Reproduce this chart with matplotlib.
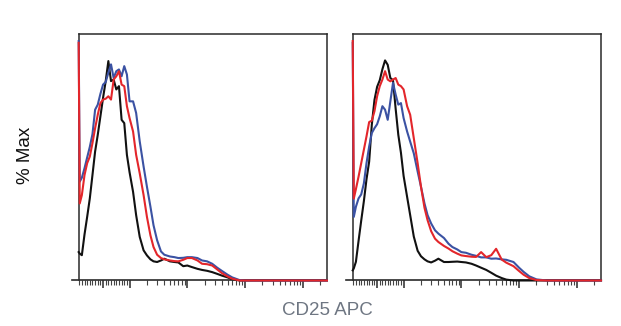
import matplotlib
matplotlib.use("Agg")
import matplotlib.pyplot as plt
from matplotlib.lines import Line2D

plt.rcParams['font.family'] = ['Liberation Sans', 'DejaVu Sans']

# Shared histogram bin positions (CD25 APC fluorescence)
fluor = [-92, -88, -80, -70, -60, -50, -40, -30, -20, -10, 0, 10, 20, 30, 40, 50,
         60, 70, 80, 90, 100, 115, 130, 150, 175, 200, 230, 260, 300, 350, 400,
         500, 600, 700, 850, 1000, 1200, 1500, 1800, 2200, 2700, 3300, 4000,
         5000, 6000, 8000, 10000, 12000, 15000, 20000, 30000, 262144]

# Left panel, % of max
left_black = [12.9, 12.2, 11.5, 20.9, 28.9, 37.3, 47.9, 58.6, 66.2, 74.6, 83.0, 90.6,
              99.7, 90.6, 91.3, 86.8, 88.3, 73.0, 71.5, 57.1, 49.2, 40.3, 29.7, 19.8,
              13.7, 11.4, 9.6, 8.7, 8.4, 9.1, 9.9, 8.7, 8.4, 8.2, 6.5, 6.8, 6.1, 5.3,
              4.8, 4.4, 3.8, 3.0, 2.2, 1.4, 0.6, 0, 0, 0, 0, 0, 0, 0]
left_blue = [108.8, 44.9, 46.7, 51.0, 55.9, 60.7, 66.5, 77.6, 79.9, 84.8, 89.0, 90.2,
             94.4, 98.2, 92.0, 95.1, 95.9, 92.8, 97.4, 93.6, 81.4, 81.4, 76.1, 63.2,
             51.8, 42.6, 33.5, 25.1, 18.3, 13.2, 11.7, 10.9, 10.6, 10.2, 10.3, 10.6,
             10.6, 10.2, 9.1, 8.7, 7.6, 5.8, 4.3, 2.6, 1.4, 0.2, 0, 0, 0, 0, 0, 0]
left_red = [108.0, 35.0, 38.8, 47.9, 53.3, 56.3, 62.4, 69.2, 75.3, 80.6, 82.2, 82.6,
            83.7, 82.2, 91.3, 92.8, 95.1, 89.0, 88.3, 79.2, 73.8, 67.7, 57.1, 48.7,
            38.8, 28.9, 20.5, 15.2, 11.7, 10.2, 9.6, 9.1, 8.8, 8.7, 9.4, 10.2, 10.2,
            9.1, 7.6, 7.4, 6.8, 5.0, 3.3, 1.8, 0.8, 0, 0, 0, 0, 0, 0, 0]

# Right panel, % of max
right_black = [4.6, 5.5, 8.5, 18.0, 27.2, 36.0, 46.0, 54.0, 70.8, 82.0, 88.0, 91.0,
               96.0, 100.0, 98.0, 92.0, 91.0, 78.0, 66.2, 58.0, 47.5, 38.0, 29.7, 20.0,
               13.5, 11.0, 9.6, 8.7, 8.2, 9.0, 9.9, 8.4, 8.4, 8.5, 8.6, 8.4, 8.2, 7.6,
               6.8, 5.8, 4.8, 3.5, 2.2, 1.1, 0.4, 0, 0, 0, 0, 0, 0, 0]
right_blue = [108.0, 28.9, 33.5, 37.3, 39.1, 44.1, 53.3, 60.9, 67.0, 69.2, 71.0, 74.6,
              79.2, 77.6, 73.0, 81.4, 89.8, 84.5, 79.9, 80.6, 73.8, 67.7, 63.1, 57.8,
              49.5, 42.6, 35.0, 29.7, 25.9, 22.8, 21.3, 19.3, 16.7, 15.2, 14.1, 12.9,
              12.6, 11.7, 11.2, 10.5, 10.5, 9.9, 10.0, 9.6, 9.4, 8.4, 5.8, 3.9, 1.9,
              0.5, 0, 0]
right_red = [108.8, 37.2, 41.5, 47.2, 53.3, 59.4, 65.5, 72.0, 72.6, 76.9, 83.7, 88.3,
             91.3, 95.1, 91.3, 90.5, 91.3, 92.0, 89.0, 88.3, 86.8, 79.2, 75.3, 64.7,
             53.3, 42.6, 33.0, 27.4, 22.4, 19.0, 17.5, 15.7, 14.5, 13.3, 12.2, 11.4,
             11.1, 10.8, 10.7, 12.9, 10.6, 11.5, 14.4, 9.5, 8.1, 6.5, 4.3, 2.6, 1.1,
             0.2, 0, 0]

major_ticks = [0, 100, 1000, 10000, 100000]
minor_ticks = ([-v for v in range(10, 100, 10)] + list(range(10, 100, 10)) +
               list(range(200, 1000, 100)) + list(range(2000, 10000, 1000)) +
               list(range(20000, 100000, 10000)) + [200000])

COLORS = {'black': '#111111', 'blue': '#3b52a3', 'red': '#e3262b'}
FRAME = '#2a2a2a'

fig = plt.figure(figsize=(6.21, 3.26), dpi=100)
fig.patch.set_facecolor('white')

panels = [
    (0.1267, (left_black, left_blue, left_red)),
    (0.5680, (right_black, right_blue, right_red)),
]

for x0, (blk, blu, red) in panels:
    ax = fig.add_axes([x0, 0.1396, 0.3998, 0.7561])
    ax.set_xscale('symlog', linthresh=100, linscale=0.413)
    ax.set_xlim(-92, 262144)
    ax.set_ylim(0, 112)

    for ys, key in ((blk, 'black'), (blu, 'blue'), (red, 'red')):
        ax.plot(fluor, ys, color=COLORS[key], lw=1.5, clip_on=False,
                solid_joinstyle='round', zorder=3)

    for side in ('top', 'left', 'right'):
        ax.spines[side].set_color(FRAME)
        ax.spines[side].set_linewidth(1.1)
    ax.spines['bottom'].set_visible(False)
    # bottom axis line runs a little past the left edge of the frame
    ax.add_line(Line2D([-0.028, 1.0], [0, 0], transform=ax.transAxes,
                       color=FRAME, lw=1.2, clip_on=False, zorder=2))

    ax.set_xticks(major_ticks)
    ax.set_xticks(minor_ticks, minor=True)
    ax.tick_params(axis='x', which='major', length=6, width=1.1, color=FRAME,
                   direction='out', labelbottom=False)
    ax.tick_params(axis='x', which='minor', length=3.6, width=0.8, color='#444444',
                   direction='out', labelbottom=False)
    ax.set_yticks([])

fig.text(0.041, 0.5245, '% Max', rotation=90, ha='center', va='center',
         fontsize=13.5, color='#111111')
fig.text(0.527, 0.049, 'CD25 APC', ha='center', va='center',
         fontsize=13.5, color='#6e7682')

fig.savefig('out.png', dpi=100, facecolor='white')
